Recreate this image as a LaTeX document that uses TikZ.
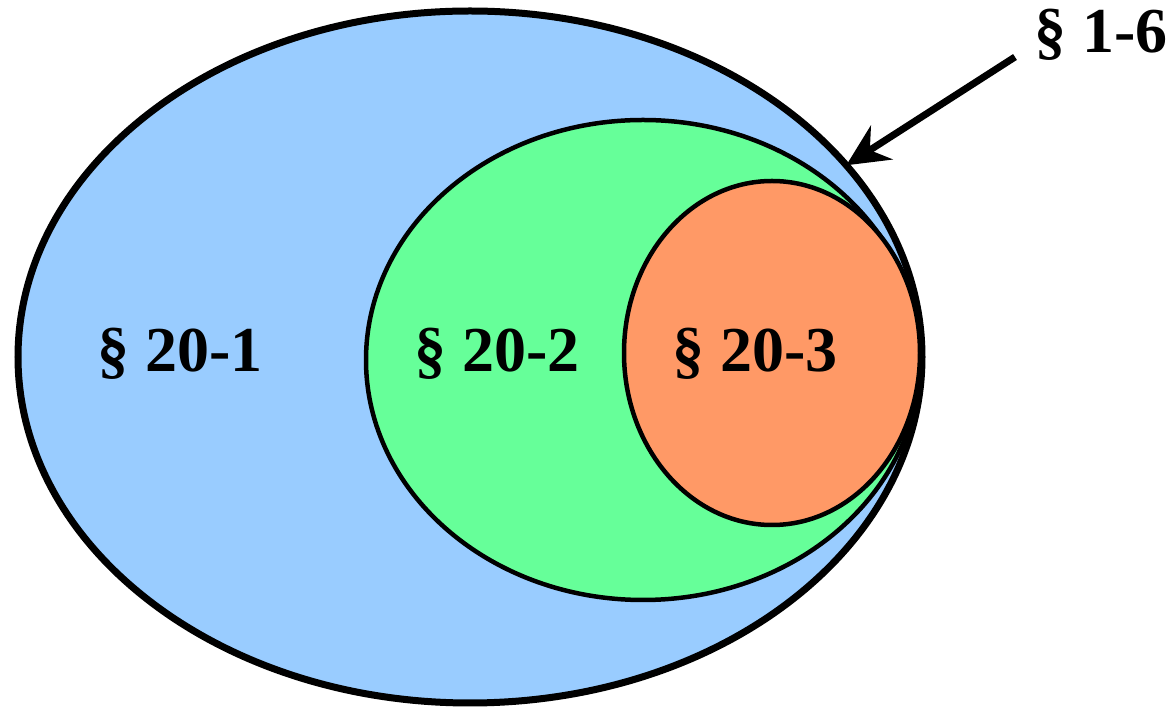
\documentclass[tikz,border=0pt]{standalone}
\usepackage{fontspec}
\setmainfont{Liberation Serif}
\usetikzlibrary{shapes.geometric,arrows.meta}
\definecolor{setone}{HTML}{99CCFF}
\definecolor{settwo}{HTML}{66FF99}
\definecolor{setthree}{HTML}{FF9966}
\tikzset{region/.style={ellipse,draw,inner sep=0pt,outer sep=0pt},
  sect/.style={font=\fontsize{32}{36}\selectfont\bfseries,anchor=base}}
\begin{document}
\begin{tikzpicture}[x=.5pt,y=-.5pt]
\useasboundingbox (0,0) rectangle (1175,710);
\node[region,fill=setone,line width=3.5pt,minimum width=452pt,minimum height=346pt] (outer) at (470,357) {};
\node[region,fill=settwo,line width=2.25pt,minimum width=277pt,minimum height=240pt] (middle) at (643,360) {};
\node[region,fill=setthree,line width=2.25pt,minimum width=148pt,minimum height=172pt] (inner) at (772,353) {};
\node[sect] (sone) at (180,372) {§ 20-1};
\node[sect] (stwo) at (497,372) {§ 20-2};
\node[sect] (sthree) at (755,372) {§ 20-3};
\node[sect] (sall) at (1101,53) {§ 1-6};
\coordinate (tail) at (1015,57);
\draw[-{Stealth[length=21pt,width=20pt,inset=7pt]},line width=3.5pt] (tail) -- (outer.27);
\end{tikzpicture}
\end{document}
